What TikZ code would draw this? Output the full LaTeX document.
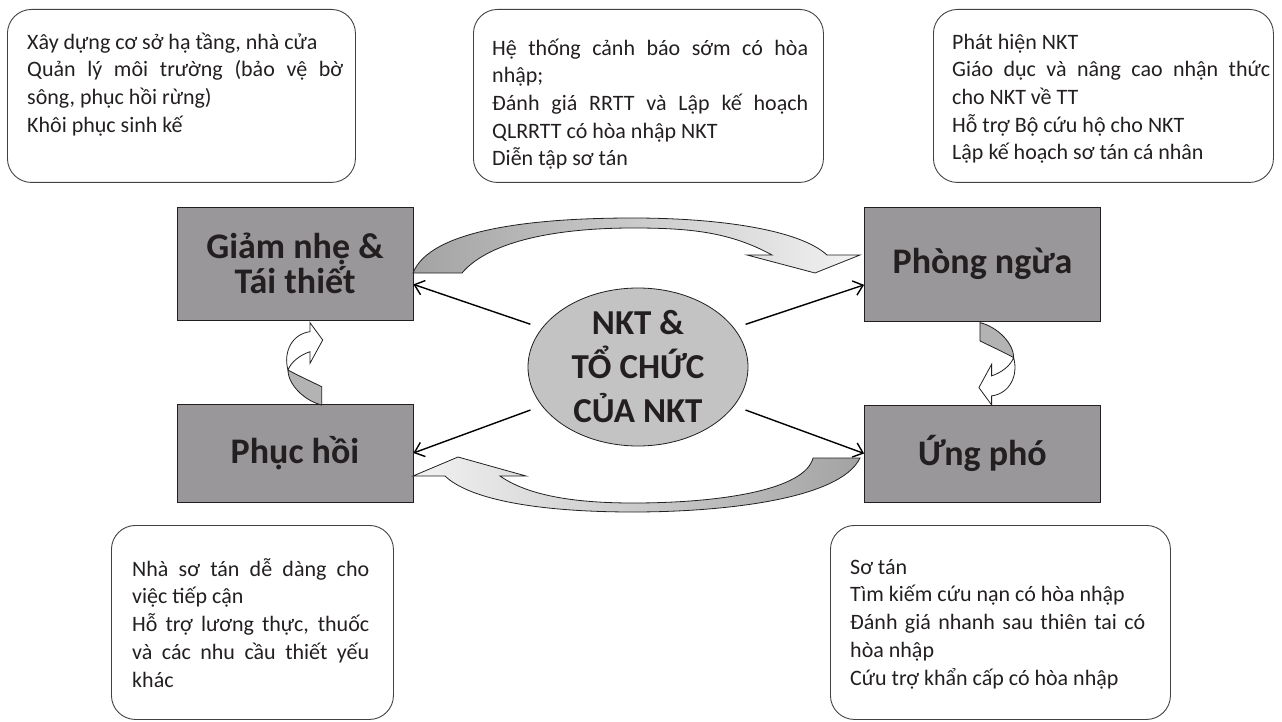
\documentclass[tikz,border=0pt]{standalone}
\usepackage{fontspec}
\setmainfont{Carlito}
\usetikzlibrary{positioning,arrows.meta,calc,shapes.geometric}
\definecolor{ink}{HTML}{231F20}
\definecolor{phasegray}{HTML}{999799}
\definecolor{hubgray}{HTML}{C3C3C3}
\definecolor{curlgray}{HTML}{B3B3B3}
\definecolor{sweepdark}{HTML}{A3A3A3}
\definecolor{sweeplight}{HTML}{F2F2F2}
\setlength{\parindent}{0pt}
\newcommand{\topstrut}{\rule{0pt}{22pt}}

\begin{document}
\begin{tikzpicture}[x=1pt,y=-1pt,
    infobox/.style={draw=ink!85,line width=0.9pt,rounded corners=24pt,anchor=north west,inner sep=0pt},
    infotext/.style={anchor=north west,inner sep=0pt,align=justify,text=ink,
      font=\fontsize{22pt}{27.7pt}\selectfont,execute at begin node={\tolerance=9999\topstrut}},
    phase/.style={draw=ink,line width=0.8pt,fill=phasegray,minimum width=236pt,inner sep=0pt,
      align=center,text=ink,font=\fontsize{36pt}{35pt}\selectfont\bfseries},
    spoke/.style={line width=1.4pt,shorten <=12pt,-{Straight Barb[length=9pt,width=15pt]}},
    sweep/.style={draw=ink,line width=0.8pt},
    curl/.style={draw=ink,line width=0.8pt}]

      \useasboundingbox (0,0) rectangle (1282,722);

      \node[infobox,minimum width=348pt,minimum height=173pt] (mitbox) at (7,9) {};
      \node[infobox,minimum width=350pt,minimum height=173pt] (prevbox) at (473,9) {};
      \node[infobox,minimum width=340pt,minimum height=173pt] (detbox) at (933,9) {};
      \node[infobox,minimum width=282pt,minimum height=194pt] (recbox) at (111,525) {};
      \node[infobox,minimum width=340pt,minimum height=194pt] (resbox) at (830,525) {};

      \node[infotext,text width=316pt] (mittext) at ($(mitbox.north west)+(20,18)$) {
        Xây dựng cơ sở hạ tầng, nhà cửa\\
        Quản lý môi trường (bảo vệ bờ\linebreak sông, phục hồi rừng)\\
        Khôi phục sinh kế
      };
      \node[infotext,text width=316pt] (prevtext) at ($(prevbox.north west)+(19,24)$) {
        Hệ thống cảnh báo sớm có hòa\linebreak nhập;\\
        Đánh giá RRTT và Lập kế hoạch\linebreak QLRRTT có hòa nhập NKT\\
        Diễn tập sơ tán
      };
      \node[infotext,text width=318pt] (dettext) at ($(detbox.north west)+(19,18)$) {
        Phát hiện NKT\\
        Giáo dục và nâng cao nhận thức\linebreak cho NKT về TT\\
        Hỗ trợ Bộ cứu hộ cho NKT\\
        Lập kế hoạch sơ tán cá nhân
      };
      \node[infotext,text width=237pt] (rectext) at ($(recbox.north west)+(21,29)$) {
        Nhà sơ tán dễ dàng cho\linebreak việc tiếp cận\\
        Hỗ trợ lương thực, thuốc\linebreak và các nhu cầu thiết yếu\linebreak khác
      };
      \node[infotext,text width=295pt] (restext) at ($(resbox.north west)+(20,27)$) {
        Sơ tán\\
        Tìm kiếm cứu nạn có hòa nhập\\
        Đánh giá nhanh sau thiên tai có\linebreak hòa nhập\\
        Cứu trợ khẩn cấp có hòa nhập
      };

      \node[phase,minimum height=113pt] (mitigate) at (295,263.5) {Giảm nhẹ \&\\Tái thiết};
      \node[phase,minimum height=114pt] (prevent) at (982.5,264) {Phòng ngừa};
      \node[phase,minimum height=98pt] (recover) at (295,453) {Phục hồi};
      \node[phase,minimum height=97pt] (respond) at (982.5,453.5) {Ứng phó};

      \node[ellipse,draw=ink,line width=0.8pt,fill=hubgray,minimum width=220pt,minimum height=158pt] (hub) at (638,367) {};
      \node[align=center,text=ink,font=\fontsize{35pt}{44pt}\selectfont\bfseries] (hubtext) at (hub.center) {NKT \&\\TỔ CHỨC\\CỦA NKT};

      \draw[spoke] (hub.158) -- (mitigate.-10);
      \draw[spoke] (hub.22) -- (prevent.190);
      \draw[spoke] (hub.202) -- (recover.east);
      \draw[spoke] (hub.-22) -- (respond.west);

      \path[sweep,left color=sweepdark,right color=sweeplight]
        (413,273) .. controls (430,230) and (530,218) .. (633,218)
        .. controls (720,218) and (800,230) .. (827,255)
        -- (860,255) -- (815,273) -- (747,255) -- (772,255)
        .. controls (730,232) and (690,228) .. (633,228)
        .. controls (560,228) and (490,240) .. (462,273) -- cycle;
      \path[sweep,left color=sweeplight,right color=sweepdark]
        (813,458) -- (860,458)
        .. controls (840,500) and (720,512) .. (633,512)
        .. controls (540,512) and (470,500) .. (445,476)
        -- (413,476) -- (458,457) -- (526,476) -- (500,476)
        .. controls (530,497) and (580,503) .. (633,503)
        .. controls (720,503) and (805,490) .. (813,458) -- cycle;

      \path[curl,fill=curlgray] (288,370) .. controls (288,385) and (305,401) .. (321.7,405)
        -- (321.7,386.7) .. controls (308,380) and (295,374) .. (288,370) -- cycle;
      \path[curl,fill=white] (288,370) .. controls (283,352) and (292,334) .. (310,331.7)
        -- (310,322.7) -- (322.7,340) -- (310,363.3) -- (310,351.7)
        .. controls (300,355) and (291,362) .. (288,370) -- cycle;
      \begin{scope}[shift={(693,0)},rotate around={180:(304.3,363.8)}]
        \path[curl,fill=curlgray] (288,370) .. controls (288,385) and (305,401) .. (321.7,405)
          -- (321.7,386.7) .. controls (308,380) and (295,374) .. (288,370) -- cycle;
        \path[curl,fill=white] (288,370) .. controls (283,352) and (292,334) .. (310,331.7)
          -- (310,322.7) -- (322.7,340) -- (310,363.3) -- (310,351.7)
          .. controls (300,355) and (291,362) .. (288,370) -- cycle;
      \end{scope}
    \end{tikzpicture}
\end{document}
